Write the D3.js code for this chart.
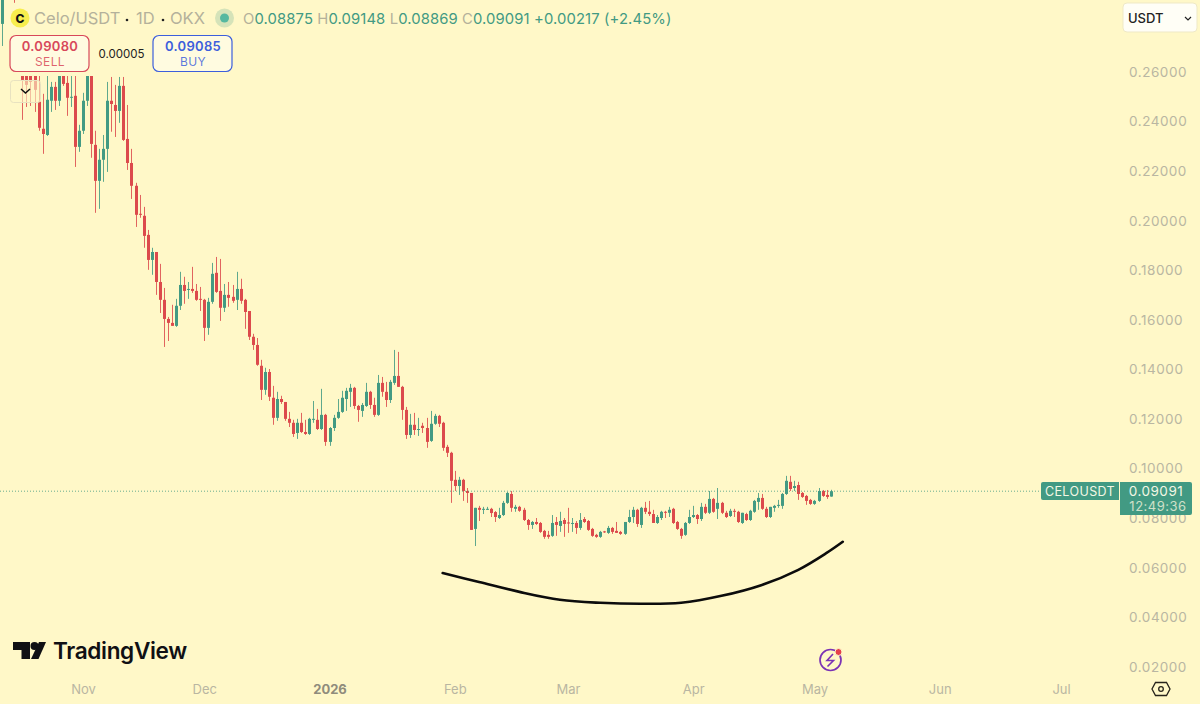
<!DOCTYPE html>
<html>
<head>
<meta charset="utf-8">
<script src="https://cdn.jsdelivr.net/npm/d3@7"></script>
<style>
  html, body { margin: 0; padding: 0; background: #fff8c8; overflow: hidden; }
  text { font-family: Inter, "Noto Sans", sans-serif; }
  .domain, .tick line { display: none; }
</style>
</head>
<body>
<script>
// daily candles, first one is 12 Oct 2025
var firstDay = new Date(2025, 9, 12);

var opens = [
  .2794,.2960,.3050,.2950,.2840,.2609,.2609,.2601,.2588,.2480,
  .2371,.2346,.2484,.2540,.2484,.2609,.2556,.2498,.2504,.2298,
  .2363,.2484,.2609,.2306,.2161,.2246,.2290,.2484,.2467,.2443,
  .2544,.2330,.2233,.2141,.2028,.2020,.1943,.1842,.1874,.1753,
  .1681,.1604,.1588,.1576,.1657,.1741,.1723,.1725,.1717,.1685,
  .1681,.1568,.1673,.1790,.1717,.1649,.1701,.1693,.1681,.1725,
  .1681,.1636,.1532,.1499,.1415,.1318,.1390,.1286,.1205,.1281,
  .1269,.1201,.1185,.1144,.1185,.1148,.1140,.1199,.1197,.1160,
  .1217,.1108,.1164,.1205,.1229,.1281,.1310,.1326,.1253,.1233,
  .1253,.1310,.1257,.1217,.1346,.1310,.1277,.1346,.1374,.1330,
  .1237,.1136,.1177,.1158,.1173,.1164,.1112,.1181,.1213,.1185,
  .1088,.1064,.0955,.0930,.0955,.0910,.0902,.0757,.0842,.0834,
  .0836,.0838,.0825,.0801,.0813,.0862,.0898,.0838,.0846,.0834,
  .0793,.0773,.0785,.0781,.0749,.0733,.0729,.0785,.0769,.0793,
  .0783,.0779,.0781,.0761,.0797,.0789,.0757,.0733,.0725,.0747,
  .0741,.0761,.0749,.0745,.0737,.0785,.0805,.0834,.0773,.0842,
  .0826,.0817,.0781,.0801,.0826,.0822,.0838,.0785,.0757,.0733,
  .0781,.0805,.0813,.0797,.0846,.0822,.0878,.0838,.0862,.0822,
  .0809,.0830,.0826,.0781,.0817,.0793,.0826,.0866,.0882,.0838,
  .0805,.0842,.0850,.0850,.0898,.0947,.0922,.0934,.0902,.0890,
  .0874,.0858,.0870,.0910,.0894,.08875];

var highs = [
  .2950,.3100,.3080,.3000,.2860,.2649,.2649,.2629,.2649,.2588,
  .2512,.2584,.2560,.2560,.2649,.2629,.2584,.2584,.2584,.2387,
  .2516,.2649,.2649,.2363,.2290,.2346,.2560,.2580,.2548,.2580,
  .2580,.2467,.2290,.2153,.2104,.2056,.1963,.1891,.1874,.1826,
  .1729,.1612,.1661,.1685,.1794,.1774,.1753,.1814,.1745,.1733,
  .1685,.1689,.1830,.1854,.1846,.1745,.1753,.1741,.1794,.1766,
  .1685,.1636,.1544,.1527,.1439,.1407,.1402,.1334,.1310,.1294,
  .1269,.1229,.1197,.1201,.1225,.1197,.1205,.1273,.1241,.1322,
  .1221,.1168,.1217,.1281,.1314,.1326,.1342,.1330,.1257,.1265,
  .1346,.1314,.1286,.1378,.1370,.1350,.1358,.1479,.1471,.1334,
  .1249,.1221,.1225,.1205,.1185,.1205,.1233,.1221,.1217,.1189,
  .1096,.1068,.0991,.0967,.0959,.0922,.0902,.0842,.0850,.0846,
  .0846,.0842,.0829,.0842,.0870,.0906,.0910,.0854,.0850,.0842,
  .0797,.0789,.0801,.0785,.0753,.0749,.0813,.0805,.0826,.0801,
  .0842,.0801,.0789,.0821,.0805,.0793,.0761,.0737,.0749,.0749,
  .0769,.0765,.0785,.0749,.0785,.0834,.0846,.0838,.0846,.0866,
  .0870,.0834,.0813,.0830,.0830,.0846,.0842,.0789,.0761,.0785,
  .0834,.0850,.0817,.0862,.0858,.0910,.0882,.0922,.0866,.0830,
  .0838,.0838,.0830,.0822,.0822,.0834,.0874,.0902,.0898,.0846,
  .0846,.0854,.0874,.0902,.0971,.0971,.0951,.0947,.0906,.0894,
  .0878,.0874,.0922,.0914,.0914,.09148];

var lows = [
  .2705,.2900,.2950,.2879,.2629,.2407,.2459,.2463,.2439,.2363,
  .2270,.2342,.2439,.2447,.2463,.2544,.2423,.2459,.2217,.2278,
  .2350,.2463,.2254,.2032,.2048,.2157,.2197,.2359,.2338,.2395,
  .2322,.2205,.2088,.1975,.2012,.1891,.1802,.1782,.1701,.1628,
  .1491,.1515,.1576,.1572,.1640,.1665,.1685,.1709,.1677,.1636,
  .1515,.1540,.1665,.1709,.1596,.1632,.1653,.1669,.1640,.1665,
  .1564,.1519,.1479,.1415,.1277,.1298,.1273,.1177,.1193,.1261,
  .1193,.1168,.1128,.1120,.1144,.1136,.1136,.1185,.1156,.1156,
  .1092,.1092,.1152,.1201,.1225,.1233,.1249,.1241,.1189,.1209,
  .1249,.1241,.1209,.1213,.1290,.1249,.1265,.1338,.1330,.1197,
  .1120,.1124,.1136,.1132,.1144,.1084,.1108,.1177,.1168,.1072,
  .1047,.0862,.0910,.0894,.0870,.0862,.0753,.0688,.0789,.0817,
  .0834,.0805,.0785,.0797,.0809,.0858,.0826,.0826,.0826,.0789,
  .0753,.0757,.0773,.0741,.0717,.0717,.0725,.0729,.0745,.0725,
  .0741,.0745,.0737,.0753,.0781,.0749,.0725,.0721,.0721,.0741,
  .0737,.0737,.0741,.0733,.0733,.0781,.0781,.0765,.0761,.0817,
  .0809,.0781,.0777,.0793,.0801,.0805,.0777,.0753,.0717,.0729,
  .0777,.0801,.0777,.0789,.0817,.0817,.0822,.0797,.0817,.0801,
  .0805,.0805,.0781,.0777,.0789,.0789,.0822,.0834,.0834,.0801,
  .0801,.0826,.0842,.0838,.0894,.0910,.0910,.0874,.0882,.0854,
  .0854,.0854,.0866,.0886,.0878,.08869];

var closes = [
  .2891,.3000,.2990,.2900,.2700,.2568,.2548,.2560,.2528,.2375,
  .2350,.2488,.2540,.2484,.2609,.2552,.2496,.2500,.2298,.2363,
  .2484,.2609,.2310,.2161,.2246,.2290,.2484,.2471,.2443,.2544,
  .2326,.2233,.2141,.2024,.2026,.1939,.1842,.1874,.1753,.1681,
  .1604,.1588,.1576,.1657,.1741,.1717,.1725,.1717,.1681,.1683,
  .1568,.1673,.1786,.1713,.1649,.1701,.1689,.1677,.1725,.1677,
  .1632,.1532,.1499,.1419,.1318,.1390,.1290,.1205,.1281,.1269,
  .1201,.1185,.1140,.1185,.1148,.1140,.1201,.1201,.1160,.1217,
  .1108,.1164,.1205,.1229,.1286,.1314,.1326,.1253,.1237,.1257,
  .1310,.1257,.1217,.1346,.1310,.1277,.1350,.1374,.1330,.1237,
  .1136,.1177,.1156,.1160,.1164,.1108,.1181,.1213,.1181,.1084,
  .1064,.0951,.0930,.0955,.0910,.0902,.0753,.0842,.0834,.0838,
  .0838,.0821,.0805,.0813,.0862,.0902,.0842,.0846,.0830,.0793,
  .0773,.0785,.0777,.0745,.0725,.0725,.0781,.0773,.0789,.0777,
  .0779,.0781,.0761,.0793,.0785,.0753,.0729,.0725,.0745,.0745,
  .0761,.0745,.0741,.0737,.0785,.0805,.0834,.0777,.0842,.0826,
  .0817,.0781,.0805,.0826,.0822,.0834,.0781,.0757,.0729,.0781,
  .0805,.0813,.0797,.0846,.0822,.0878,.0826,.0862,.0822,.0805,
  .0830,.0826,.0785,.0822,.0793,.0830,.0870,.0882,.0838,.0805,
  .0846,.0850,.0854,.0898,.0951,.0918,.0930,.0898,.0886,.0870,
  .0858,.0870,.0910,.0890,.0886,.09091];

// hand drawn arc under the base
var arcDays = ["2026-01-29","2026-02-07","2026-02-17","2026-02-27","2026-03-09","2026-03-19",
  "2026-03-29","2026-04-08","2026-04-18","2026-04-27","2026-05-04","2026-05-08"];
var arcPrices = [.0579,.0543,.0503,.0471,.0459,.0455,.0459,.0487,.0531,.0592,.0660,.0705];

var priceTicks = [.02,.04,.06,.08,.10,.12,.14,.16,.18,.20,.22,.24,.26];
var monthDays = ["2025-11-01","2025-12-01","2026-01-01","2026-02-01","2026-03-01","2026-04-01","2026-05-01","2026-06-01","2026-07-01"];
var monthLabels = ["Nov","Dec","2026","Feb","Mar","Apr","May","Jun","Jul"];

var lastClose = .09091;
var bg = "#fff8c8", up = "#429a83", down = "#dc4a4c", axisGrey = "#b9b6a2";
var parseDay = d3.timeParse("%Y-%m-%d");

var width = 1200, height = 704;

var x = d3.scaleTime()
    .domain([parseDay("2025-11-01"), parseDay("2026-07-01")])
    .range([83, 1061]);
var y = d3.scaleLinear()
    .domain([.02, .26])
    .range([667, 72]);

var svg = d3.select("body").append("svg")
    .attr("width", width)
    .attr("height", height)
    .attr("viewBox", [0, 0, width, height])
    .style("display", "block");

svg.append("rect").attr("width", width).attr("height", height).attr("fill", bg);

// candles
var candles = opens.map((o, i) => ({
  day: d3.timeDay.offset(firstDay, i), o: o, h: highs[i], l: lows[i], c: closes[i]
}));

var candle = svg.append("g").selectAll("g")
  .data(candles)
  .join("g")
    .attr("fill", d => d.c >= d.o ? up : down)
    .attr("stroke", d => d.c >= d.o ? up : down);

candle.append("line")
    .attr("x1", d => Math.round(x(d.day)) + .5)
    .attr("x2", d => Math.round(x(d.day)) + .5)
    .attr("y1", d => y(d.h))
    .attr("y2", d => y(d.l))
    .attr("stroke-opacity", .85);

candle.append("rect")
    .attr("x", d => Math.round(x(d.day)) - 1)
    .attr("width", 3)
    .attr("y", d => y(Math.max(d.o, d.c)))
    .attr("height", d => Math.max(1, Math.abs(y(d.o) - y(d.c))))
    .attr("stroke", "none");

// last price line
svg.append("line")
    .attr("x1", 0).attr("x2", 1041)
    .attr("y1", y(lastClose)).attr("y2", y(lastClose))
    .attr("stroke", up).attr("stroke-dasharray", "1 2").attr("stroke-opacity", .8);

// arc
var arc = d3.line()
    .x((d, i) => x(parseDay(arcDays[i])))
    .y(d => y(d))
    .curve(d3.curveCatmullRom);
svg.append("path")
    .attr("d", arc(arcPrices))
    .attr("fill", "none")
    .attr("stroke", "#0c0c0c")
    .attr("stroke-width", 2.6)
    .attr("stroke-linecap", "round");

// axes
svg.append("g")
    .attr("transform", "translate(1129,0)")
    .call(d3.axisRight(y).tickValues(priceTicks).tickFormat(d3.format(".5f")).tickSize(0).tickPadding(0))
    .call(g => g.selectAll("text")
      .attr("fill", axisGrey).attr("font-size", 13.5).attr("letter-spacing", .55)
      .style("font-family", "Inter, sans-serif"));

svg.append("g")
    .attr("transform", "translate(0,689)")
    .call(d3.axisBottom(x).tickValues(monthDays.map(parseDay))
      .tickFormat((d, i) => monthLabels[i]).tickSize(0).tickPadding(0))
    .call(g => g.selectAll("text")
      .attr("y", 0).attr("dy", ".35em")
      .attr("fill", axisGrey).attr("font-size", 13)
      .style("font-family", "Inter, sans-serif"))
    .call(g => g.selectAll("text").filter((d, i) => monthLabels[i] == "2026")
      .attr("fill", "#8f8c7c").attr("font-weight", 700));

// legend backdrop hides the candles under the header, as on the chart
svg.append("rect").attr("x", 9).attr("y", 5).attr("width", 300).attr("height", 71).attr("fill", bg);

// header
var head = svg.append("g");
head.append("circle").attr("cx", 20).attr("cy", 18).attr("r", 9.5).attr("fill", "#f7ee4e");
head.append("text").attr("x", 20).attr("y", 22.5).attr("text-anchor", "middle")
    .attr("font-size", 12).attr("font-weight", 800).attr("fill", "#111").text("C");
head.append("text").attr("x", 34).attr("y", 24).attr("font-size", 16.5).attr("fill", "#b4b19b")
    .text("Celo/USDT");
head.append("text").attr("x", 136).attr("y", 24).attr("font-size", 16.5).attr("fill", "#b4b19b").text("1D");
head.append("text").attr("x", 170).attr("y", 24).attr("font-size", 16.5).attr("fill", "#b4b19b").text("OKX");
head.selectAll(".dot").data([127, 163]).join("circle")
    .attr("cx", (d, i) => i ? 163 : 127).attr("cy", 20).attr("r", 1.3).attr("fill", "#222");
head.append("circle").attr("cx", 224.5).attr("cy", 18).attr("r", 9.5).attr("fill", up).attr("fill-opacity", .22);
head.append("circle").attr("cx", 224.5).attr("cy", 18).attr("r", 4.5).attr("fill", "#55b8a0");

var ohlcText = head.append("text").attr("x", 243).attr("y", 24).attr("font-size", 14.8)
    .attr("letter-spacing", .12).attr("fill", up);
[["O", "0.08875"], ["H", "0.09148"], ["L", "0.08869"], ["C", "0.09091"]].forEach(p => {
  ohlcText.append("tspan").attr("fill", "#b4b19b").text(p[0]);
  ohlcText.append("tspan").attr("dx", 0).text(p[1] + " ");
});
ohlcText.append("tspan").text("+0.00217 (+2.45%)");

// sell / buy
function quote(px, colour, price, label) {
  var g = svg.append("g");
  g.append("rect").attr("x", px).attr("y", 35.5).attr("width", 79).attr("height", 36).attr("rx", 6)
      .attr("fill", "#fffbe0").attr("stroke", colour).attr("stroke-width", 1.2);
  g.append("text").attr("x", px + 40).attr("y", 51).attr("text-anchor", "middle")
      .attr("font-size", 13).attr("font-weight", 600).attr("letter-spacing", .3).attr("fill", colour).text(price);
  g.append("text").attr("x", px + 40).attr("y", 66).attr("text-anchor", "middle")
      .attr("font-size", 12).attr("letter-spacing", .4).attr("fill", colour).attr("fill-opacity", .85).text(label);
}
quote(10, "#d8485a", "0.09080", "SELL");
quote(153, "#3d5fdc", "0.09085", "BUY");
svg.append("text").attr("x", 121.5).attr("y", 58).attr("text-anchor", "middle")
    .attr("font-size", 11.5).attr("fill", "#222").text("0.00005");

// collapse button
svg.append("rect").attr("x", 10.5).attr("y", 80.5).attr("width", 30).attr("height", 22).attr("rx", 3)
    .attr("fill", bg).attr("fill-opacity", .6).attr("stroke", "#e8e2c0");
svg.append("path").attr("d", "M21 89l4.5 4 4.5-4").attr("fill", "none").attr("stroke", "#111").attr("stroke-width", 1.5);

// USDT selector
svg.append("rect").attr("x", 1123).attr("y", 3).attr("width", 74).attr("height", 29).attr("rx", 4)
    .attr("fill", "#fffef6").attr("stroke", "#efe9c6");
svg.append("text").attr("x", 1128).attr("y", 22.5).attr("font-size", 13).attr("font-weight", 500)
    .attr("fill", "#222").text("USDT");
svg.append("path").attr("d", "M1185 17l3 3 3-3").attr("fill", "none").attr("stroke", "#222").attr("stroke-width", 1.2);

// last price labels
svg.append("path").attr("d", "M1043 482h76v18h-76a2 2 0 0 1-2-2v-14a2 2 0 0 1 2-2z").attr("fill", up);
svg.append("text").attr("x", 1080).attr("y", 496).attr("text-anchor", "middle")
    .attr("font-size", 12.5).attr("letter-spacing", .4).attr("fill", "#f3f7e4").text("CELOUSDT");
svg.append("path").attr("d", "M1120 482h70a2 2 0 0 1 2 2v29a2 2 0 0 1-2 2h-70z").attr("fill", up);
svg.append("text").attr("x", 1156).attr("y", 496).attr("text-anchor", "middle")
    .attr("font-size", 13.5).attr("letter-spacing", .5).attr("fill", "#f3f7e4").text("0.09091");
svg.append("text").attr("x", 1158).attr("y", 511).attr("text-anchor", "middle")
    .attr("font-size", 13).attr("letter-spacing", .5).attr("fill", "#cfe0c8").text("12:49:36");

// TradingView logo
var logo = svg.append("g").attr("fill", "#101014");
logo.append("path").attr("d", "M13 642h17v17h-8.5v-9H13z");
logo.append("circle").attr("cx", 34.5).attr("cy", 646).attr("r", 4);
logo.append("path").attr("d", "M39 642h7l-7.5 17h-7.5z");
logo.append("text").attr("x", 53).attr("y", 659).attr("font-size", 22.6).attr("font-weight", 600)
    .attr("letter-spacing", -.35).text("TradingView");

// bolt icon
var bolt = svg.append("g").attr("fill", "none").attr("stroke", "#7b33b5").attr("stroke-width", 1.7);
bolt.append("circle").attr("cx", 830.5).attr("cy", 660).attr("r", 10.5);
bolt.append("path").attr("d", "M833 654l-6 6.5h6.5l-6 6").attr("stroke-width", 1.6);
svg.append("circle").attr("cx", 838.5).attr("cy", 652).attr("r", 3.5).attr("fill", "#e6404b").attr("stroke", bg);

// settings hexagon
var gear = svg.append("g").attr("fill", "none").attr("stroke", "#26231a").attr("stroke-width", 1.3);
gear.append("path").attr("d", "M1155.5 682.5h11l3.5 6.5-3.5 6.5h-11l-3.5-6.5z");
gear.append("circle").attr("cx", 1161).attr("cy", 689).attr("r", 2.3);
</script>
</body>
</html>
